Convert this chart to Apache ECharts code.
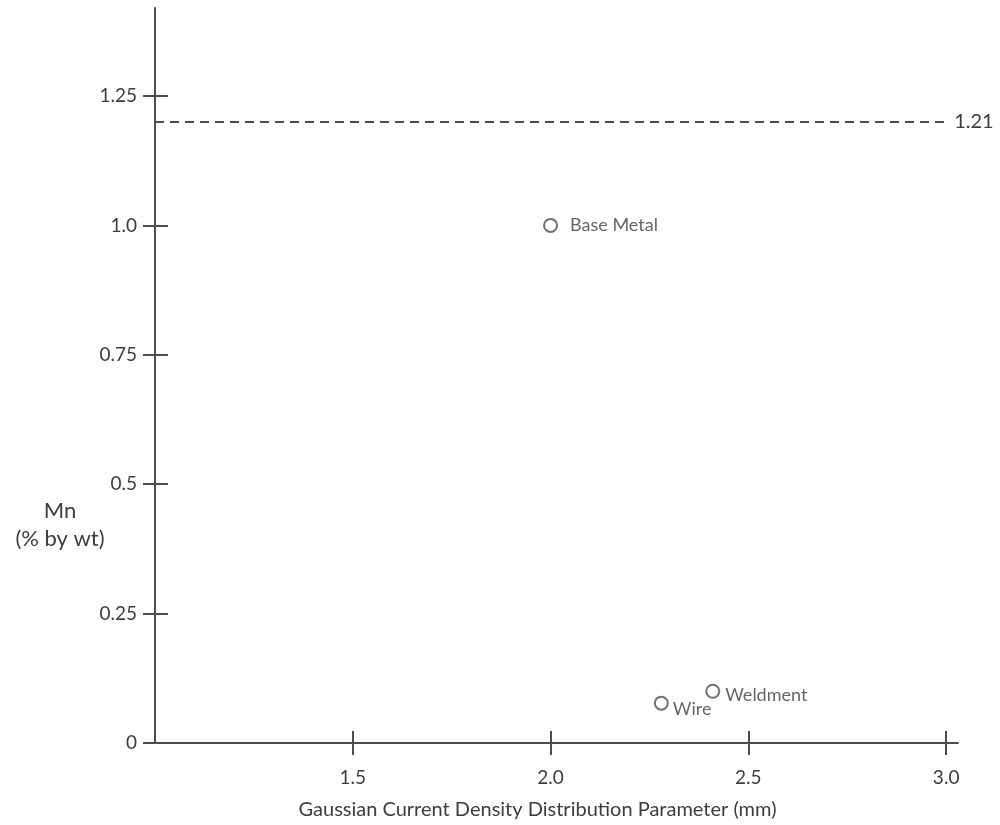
<!DOCTYPE html>
<html>
<head>
<meta charset="utf-8">
<script src="https://cdn.jsdelivr.net/npm/echarts@6/dist/echarts.min.js"></script>
<style>html,body{margin:0;padding:0;background:#fff}#c{width:1000px;height:825px}</style>
</head>
<body>
<div id="c"></div>
<script>
// Data
var pointNames = ['Base Metal', 'Wire', 'Weldment'];
var pointX = [2.0, 2.28, 2.41];
var pointY = [1.0, 0.077, 0.10];
var refLineValue = 1.2;
var refLineLabel = '1.21';
var xTickValues = [1.5, 2.0, 2.5, 3.0];
var xTickLabels = ['1.5', '2.0', '2.5', '3.0'];
var yTickValues = [0, 0.25, 0.5, 0.75, 1.0, 1.25];
var yTickLabels = ['0', '0.25', '0.5', '0.75', '1.0', '1.25'];

var gray = '#4d4d4d';
var textColor = '#3d3d3d';
var font = 'Lato';

function lab(values, labels) {
  return function (v) {
    for (var i = 0; i < values.length; i++) if (Math.abs(values[i] - v) < 1e-6) return labels[i];
    return '';
  };
}

var labelOffsets = {
  'Base Metal': { position: 'right', distance: 12, offset: [0, 0] },
  'Wire': { position: 'right', distance: 4, offset: [0, 6] },
  'Weldment': { position: 'right', distance: 5, offset: [0, 4] }
};

var data = pointNames.map(function (n, i) {
  var o = labelOffsets[n];
  return {
    name: n,
    value: [pointX[i], pointY[i]],
    label: { show: true, formatter: n, position: o.position, distance: o.distance, offset: o.offset }
  };
});

var commonX = { type: 'value', min: 1.0, max: 3.03, interval: 0.5, splitLine: { show: false } };
var commonY = { type: 'value', min: 0, max: 1.42, interval: 0.25, splitLine: { show: false } };

var option = {
  backgroundColor: '#fff',
  animation: false,
  grid: { left: 155, right: 42, top: 8, bottom: 80, containLabel: false },
  xAxis: [
    Object.assign({}, commonX, {
      position: 'bottom',
      name: 'Gaussian Current Density Distribution Parameter (mm)',
      nameLocation: 'middle',
      nameGap: 57,
      nameTextStyle: { color: textColor, fontSize: 20, fontFamily: font, padding: [0, 38, 0, 0] },
      axisLine: { show: true, lineStyle: { color: gray, width: 2 } },
      axisTick: { show: true, inside: false, length: 12, lineStyle: { color: gray, width: 2 }, customValues: xTickValues },
      axisLabel: { show: true, color: textColor, fontSize: 19, fontFamily: font, margin: 25, customValues: xTickValues, formatter: lab(xTickValues, xTickLabels) }
    }),
    Object.assign({}, commonX, {
      position: 'bottom',
      axisLine: { show: false },
      axisTick: { show: true, inside: true, length: 12, lineStyle: { color: gray, width: 2 }, customValues: xTickValues },
      axisLabel: { show: false }
    })
  ],
  yAxis: [
    Object.assign({}, commonY, {
      position: 'left',
      axisLine: { show: true, lineStyle: { color: gray, width: 2 } },
      axisTick: { show: true, inside: false, length: 12, lineStyle: { color: gray, width: 2 }, customValues: yTickValues },
      axisLabel: { show: true, color: textColor, fontSize: 19, fontFamily: font, margin: 18, customValues: yTickValues, formatter: lab(yTickValues, yTickLabels) }
    }),
    Object.assign({}, commonY, {
      position: 'left',
      axisLine: { show: false },
      axisTick: { show: true, inside: true, length: 13, lineStyle: { color: gray, width: 2 }, customValues: yTickValues },
      axisLabel: { show: false }
    })
  ],
  graphic: [{
    type: 'text',
    x: 60,
    y: 497,
    style: {
      text: 'Mn\n(% by wt)',
      fill: textColor,
      fontSize: 22,
      fontFamily: font,
      align: 'center',
      verticalAlign: 'top',
      lineHeight: 28
    }
  }],
  series: [{
    type: 'scatter',
    xAxisIndex: 0,
    yAxisIndex: 0,
    symbol: 'circle',
    symbolSize: 13,
    itemStyle: { color: '#fff', borderColor: gray, borderWidth: 2 },
    label: { color: textColor, fontSize: 18, fontFamily: font },
    data: data,
    markLine: {
      silent: true,
      symbol: ['none', 'none'],
      lineStyle: { color: gray, type: [9, 6], width: 2 },
      label: { show: true, position: 'end', formatter: refLineLabel, color: textColor, fontSize: 20, fontFamily: font, distance: 8 },
      data: [[{ coord: [1.0, refLineValue] }, { coord: [3.0, refLineValue] }]]
    }
  }]
};

var chart = echarts.init(document.getElementById('c'), null, { renderer: 'canvas' });
chart.setOption(option);
</script>
</body>
</html>
